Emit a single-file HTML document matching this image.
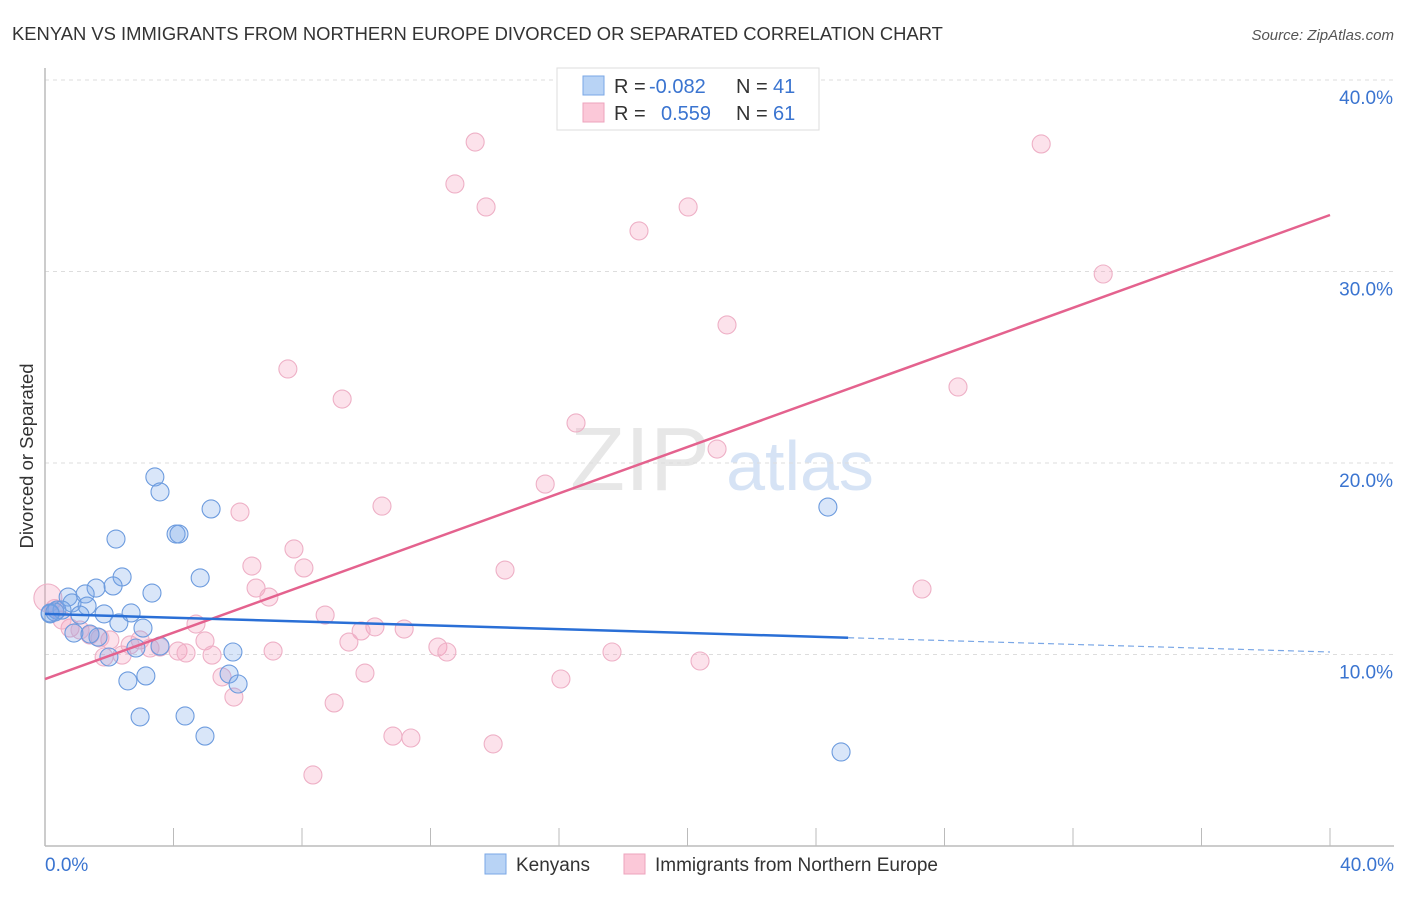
<!DOCTYPE html>
<html><head><meta charset="utf-8"><style>
body{margin:0;background:#fff;font-family:"Liberation Sans",sans-serif}
svg text{font-family:"Liberation Sans",sans-serif}
</style></head><body>
<svg id="c" width="1406" height="892">
<text x="12" y="40" font-size="18.4" fill="#333">KENYAN VS IMMIGRANTS FROM NORTHERN EUROPE DIVORCED OR SEPARATED CORRELATION CHART</text>
<text x="1394" y="40" font-size="15" fill="#555" text-anchor="end" font-style="italic">Source: ZipAtlas.com</text>
<text x="33" y="456" font-size="18.5" fill="#333" text-anchor="middle" transform="rotate(-90 33 456)">Divorced or Separated</text>
<g><text x="640" y="490" font-size="90" fill="#ddd" font-family="Liberation Serif" text-anchor="middle" opacity="0.7">ZIP</text><text x="800" y="490" font-size="70" fill="#c5d8f2" text-anchor="middle" opacity="0.7">atlas</text></g>
<g id="grid"></g><g id="axes"></g><g id="pts"></g><g id="lines"></g>
<g>
<rect x="557" y="68" width="262" height="62" fill="#fff" stroke="#ddd"/>
<rect x="583" y="76" width="21" height="19" fill="#b8d3f5" stroke="#7aa7e6"/>
<rect x="583" y="103" width="21" height="19" fill="#fbc8d8" stroke="#eea3bd"/>
<text x="614" y="93" font-size="20" fill="#333">R = </text><text x="649" y="93" font-size="20" fill="#3a74d0">-0.082</text>
<text x="736" y="93" font-size="20" fill="#333">N = </text><text x="773" y="93" font-size="20" fill="#3a74d0">41</text>
<text x="614" y="120" font-size="20" fill="#333">R = </text><text x="661" y="120" font-size="20" fill="#3a74d0">0.559</text>
<text x="736" y="120" font-size="20" fill="#333">N = </text><text x="773" y="120" font-size="20" fill="#3a74d0">61</text>
</g>
<g>
<rect x="485" y="854" width="21" height="20" fill="#b8d3f5" stroke="#7aa7e6"/>
<text x="516" y="871" font-size="19" fill="#333">Kenyans</text>
<rect x="624" y="854" width="21" height="20" fill="#fbc8d8" stroke="#eea3bd"/>
<text x="655" y="871" font-size="19" fill="#333">Immigrants from Northern Europe</text>
</g>
</svg>
<script>
const blueX=[3.42,3.58,5.17,2.21,4.08,4.17,2.40,4.83,1.59,2.12,3.33,0.72,1.25,0.84,1.31,0.37,0.53,0.16,1.09,1.84,2.68,2.30,3.05,0.90,1.65,1.40,2.83,1.99,5.85,3.58,5.73,2.58,3.14,6.01,2.96,4.36,4.98,24.37,24.78,0.16,0.31];
const blueY=[19.27,18.49,17.60,16.03,16.29,16.29,14.05,14.00,13.47,13.58,13.21,13.00,13.16,12.69,12.53,12.32,12.32,12.12,12.06,12.12,12.17,11.65,11.38,11.12,10.91,11.07,10.34,9.87,10.13,10.44,8.98,8.62,8.88,8.46,6.74,6.79,5.74,17.70,4.91,12.17,12.22];
const pinkX=[13.39,12.76,13.73,18.49,20.02,31.01,32.94,21.23,7.56,9.25,28.42,16.53,20.92,15.57,6.07,10.49,7.75,6.44,8.06,14.32,6.57,6.97,27.30,8.72,4.70,10.27,11.18,9.84,9.46,4.98,12.23,12.51,17.65,7.10,2.96,2.02,3.58,4.14,4.39,5.20,2.40,1.84,20.39,9.96,5.51,16.06,5.88,9.00,10.83,11.39,13.95,8.34,0.09,0.78,0.53,1.40,2.65,3.27,1.71,1.09,0.30];
const pinkY=[36.76,34.57,33.37,32.12,33.37,36.66,29.87,27.21,24.91,23.34,23.97,22.09,20.73,18.90,17.44,17.75,15.51,14.62,14.52,14.41,13.47,13.00,13.42,12.06,11.59,11.44,11.33,11.23,10.65,10.71,10.39,10.13,10.13,10.18,10.76,10.76,10.39,10.18,10.08,9.97,9.97,9.87,9.66,9.03,8.83,8.72,7.78,7.47,5.74,5.64,5.33,3.71,12.95,11.38,11.80,11.02,10.50,10.34,10.86,11.28,12.4];
const yTicks=[10,20,30,40];
const yTickLabels=["10.0%","20.0%","30.0%","40.0%"];
const pinkTrend=[8.72,32.95]; // at x=0 and x=40
const blueTrend=[12.12,10.13];
const blueSolidEnd=25;
const sx=v=>45+v/40*1285, sy=v=>846-v*19.15;
const NS="http://www.w3.org/2000/svg";
function mk(t,a,p){const e=document.createElementNS(NS,t);for(const k in a)e.setAttribute(k,a[k]);document.getElementById(p).appendChild(e);return e;}
yTicks.forEach((t,i)=>{
 const g=mk('line',{x1:45,x2:1394,y1:sy(t),y2:sy(t),stroke:'#ddd','stroke-dasharray':'4,4'},'grid');
 
 
 const l=mk('text',{x:1393,y:sy(t)+24,'font-size':19,fill:'#3a74d0','text-anchor':'end'},'axes');
 l.textContent=yTickLabels[i];
 
 
});
const ax=mk('line',{x1:45,x2:45,y1:68,y2:846,stroke:'#bbb','stroke-width':1.5},'axes');


const bx=mk('line',{x1:45,x2:1394,y1:846,y2:846,stroke:'#bbb','stroke-width':1.5},'axes');


for(let i=1;i<=10;i++){const t=mk('line',{x1:sx(i*4),x2:sx(i*4),y1:828,y2:846,stroke:'#bbb'},'axes');
 
 }
[[0,'0.0%','start',45],[40,'40.0%','end',1394]].forEach(d=>{const t=mk('text',{x:d[3],y:871,'font-size':19,fill:'#3a74d0','text-anchor':d[2]},'axes');t.textContent=d[1];
 
 });
pinkX.forEach((x,i)=>{const c=mk('circle',{cx:sx(x),cy:sy(pinkY[i]),r:i==52?14:9,fill:'rgba(245,160,190,0.3)',stroke:'#eeb0c6','stroke-width':1.1},'pts');
 
 });
blueX.forEach((x,i)=>{const c=mk('circle',{cx:sx(x),cy:sy(blueY[i]),r:9,fill:'rgba(120,165,235,0.28)',stroke:'#6c9bde','stroke-width':1.1},'pts');
 
 });
const bAt=x=>blueTrend[0]+(blueTrend[1]-blueTrend[0])*x/40;
let l1=mk('line',{x1:sx(0),y1:sy(pinkTrend[0]),x2:sx(40),y2:sy(pinkTrend[1]),stroke:'#e4628e','stroke-width':2.5},'lines');


let l2=mk('line',{x1:sx(0),y1:sy(bAt(0)),x2:sx(blueSolidEnd),y2:sy(bAt(blueSolidEnd)),stroke:'#2a6fd6','stroke-width':2.5},'lines');


let l3=mk('line',{x1:sx(blueSolidEnd),y1:sy(bAt(blueSolidEnd)),x2:sx(40),y2:sy(bAt(40)),stroke:'#7aa7e6','stroke-width':1.2,'stroke-dasharray':'6,4'},'lines');


</script>
</body></html>
